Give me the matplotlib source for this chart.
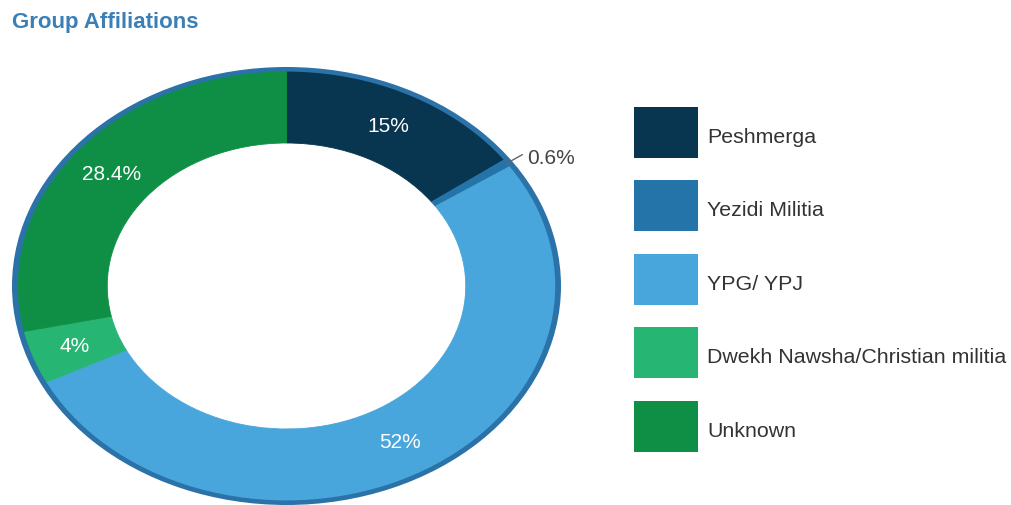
import matplotlib
matplotlib.use("Agg")
import matplotlib.pyplot as plt
from matplotlib.patches import Wedge, Rectangle
import numpy as np

# ---- data ----
categories = ["Peshmerga", "Yezidi Militia", "YPG/ YPJ",
              "Dwekh Nawsha/Christian militia", "Unknown"]
values = [15, 0.6, 52, 4, 28.4]
colors = ["#08354f", "#2574a9", "#48a6dc", "#27b574", "#0f8f45"]
title = "Group Affiliations"

plt.rcParams['font.family'] = ['Liberation Sans', 'DejaVu Sans']

W, H = 1011, 506
fig = plt.figure(figsize=(W / 100, H / 100), dpi=100)

# donut axes (elliptical, as in reference)
left_px, right_px, top_px, bot_px = 12, 561, 68, 506
ax = fig.add_axes([left_px / W, (H - bot_px) / H,
                   (right_px - left_px) / W, (bot_px - top_px) / H])

border = 0.017
r_out = 1.0 - border
hole = 0.653
wedges, _ = ax.pie(values, colors=colors, startangle=90, counterclock=False,
                   radius=r_out,
                   wedgeprops=dict(width=r_out - hole, linewidth=0.6))
for w, c in zip(wedges, colors):
    w.set_edgecolor(c)
ring = Wedge((0, 0), 1.0, 0, 360, width=border + 0.004, facecolor="#2a72a8",
             edgecolor="none")
ax.add_patch(ring)
ax.set_aspect('auto')
ax.set_xlim(-1, 1)
ax.set_ylim(-1, 1)
ax.axis('off')

total = sum(values)
for w, v in zip(wedges, values):
    mid = np.deg2rad((w.theta1 + w.theta2) / 2)
    lab = f"{round(100 * v / total, 1):g}%"
    if v / total < 0.02:
        x0, y0 = 0.975 * np.cos(mid), 0.975 * np.sin(mid)
        x1, y1 = 1.05 * np.cos(mid), 1.05 * np.sin(mid)
        ax.plot([x0, x1], [y0, y1], color="#666666", lw=1.0,
                solid_capstyle='butt', clip_on=False)
        ax.annotate(lab, (x1, y1), xytext=(3, -2), textcoords='offset points',
                    ha='left', va='center', fontsize=15, color="#444444",
                    annotation_clip=False)
    else:
        r = 0.82
        ax.text(r * np.cos(mid), r * np.sin(mid), lab, ha='center',
                va='center', fontsize=15, color="white")

# overlay axes in pixel coordinates for title and legend
ov = fig.add_axes([0, 0, 1, 1])
ov.set_xlim(0, W)
ov.set_ylim(H, 0)
ov.axis('off')
ov.patch.set_alpha(0)

ov.text(12, 28, title, ha='left', va='baseline', fontsize=16,
        fontweight='bold', color="#3a7fb6")

sq_x, sq_w, sq_h = 634, 64, 51
y0, step = 108, 73.4
for i, (cat, c) in enumerate(zip(categories, colors)):
    top = y0 + i * step
    ov.add_patch(Rectangle((sq_x, top), sq_w, sq_h, facecolor=c,
                           edgecolor='none'))
    ov.text(707, top + sq_h / 2 + 9.5, cat, ha='left', va='baseline',
            fontsize=15.4, color="#333333")

fig.savefig("out.png", dpi=100)
